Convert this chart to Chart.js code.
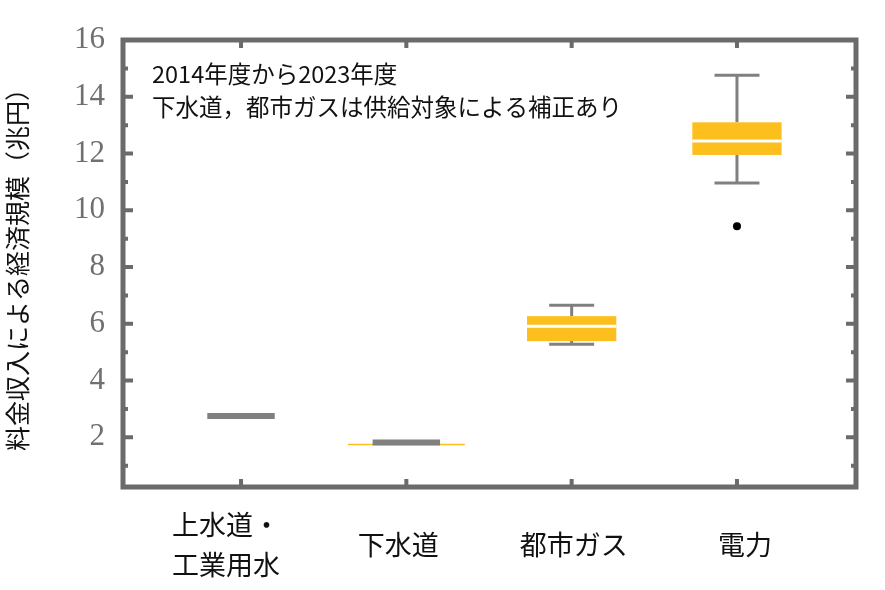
<!DOCTYPE html>
<html><head><meta charset="utf-8">
<script src="https://cdn.jsdelivr.net/npm/chart.js@4/dist/chart.umd.min.js"></script>
<style>body{margin:0;background:#fff}#wrap{width:885px;height:590px}</style>
</head><body><div id="wrap"><canvas id="c"></canvas></div>
<script>
const categories = [['上水道・', '工業用水'], ['下水道'], ['都市ガス'], ['電力']];
// [whiskerLow, q1, median, q3, whiskerHigh]
const boxStats = [
  [2.75, 2.75, 2.75, 2.75, 2.75],
  [1.82, 1.82, 1.82, 1.82, 1.82],
  [5.28, 5.39, 5.91, 6.27, 6.65],
  [10.96, 11.95, 12.44, 13.1, 14.76]
];
const outliers = [{ x: 4, y: 9.44 }];
const yTicks = [2, 4, 6, 8, 10, 12, 14, 16];
const notes = ['2014年度から2023年度', '下水道，都市ガスは供給対象による補正あり'];

const GRAY = '#6b6b6b', YEL = '#fdbf1e';
const labelShift = [-15, -8, 2, 8];

const boxPlugin = {
  id: 'boxes',
  afterDatasetsDraw(chart) {
    const { ctx, chartArea: a, scales: { x, y } } = chart;
    ctx.save();
    ctx.beginPath(); ctx.rect(a.left, a.top, a.right - a.left, a.bottom - a.top); ctx.clip();
    boxStats.forEach((s, i) => {
      const c = x.getPixelForValue(i + 1);
      const bw = x.getPixelForValue(1.27) - x.getPixelForValue(1);
      const cw = x.getPixelForValue(1.136) - x.getPixelForValue(1);
      const [lo, q1, med, q3, hi] = s.map(v => y.getPixelForValue(v));
      if (q1 - q3 > 1) {
        ctx.strokeStyle = '#808080'; ctx.lineWidth = 3;
        ctx.beginPath();
        ctx.moveTo(c, lo); ctx.lineTo(c, q1); ctx.moveTo(c, q3); ctx.lineTo(c, hi);
        ctx.moveTo(c - cw, lo); ctx.lineTo(c + cw, lo); ctx.moveTo(c - cw, hi); ctx.lineTo(c + cw, hi);
        ctx.stroke();
        ctx.fillStyle = YEL; ctx.fillRect(c - bw, q3, 2 * bw, q1 - q3);
        ctx.strokeStyle = '#fff'; ctx.lineWidth = 3;
        ctx.beginPath(); ctx.moveTo(c - bw, med); ctx.lineTo(c + bw, med); ctx.stroke();
      } else {
        if (i === 1) {
          ctx.strokeStyle = YEL; ctx.lineWidth = 1.5;
          ctx.beginPath(); ctx.moveTo(c - 1.3 * cw * 2, med + 2); ctx.lineTo(c + 1.3 * cw * 2, med + 2); ctx.stroke();
        }
        ctx.strokeStyle = '#808080'; ctx.lineWidth = 6;
        ctx.beginPath(); ctx.moveTo(c - cw * 1.5, med); ctx.lineTo(c + cw * 1.5, med); ctx.stroke();
      }
    });
    ctx.restore();
    // frame and ticks
    ctx.save();
    ctx.strokeStyle = GRAY; ctx.lineWidth = 5;
    ctx.strokeRect(a.left, a.top, a.right - a.left, a.bottom - a.top);
    ctx.lineWidth = 4;
    ctx.beginPath();
    for (let v = 1; v <= 16; v++) {
      const py = y.getPixelForValue(v), len = v % 2 ? 5 : 10;
      ctx.moveTo(a.left, py); ctx.lineTo(a.left + len, py);
      ctx.moveTo(a.right, py); ctx.lineTo(a.right - len, py);
    }
    for (let k = 1; k <= 4; k++) {
      const px = x.getPixelForValue(k);
      ctx.moveTo(px, a.bottom); ctx.lineTo(px, a.bottom - 8);
      ctx.moveTo(px, a.top); ctx.lineTo(px, a.top + 8);
    }
    ctx.stroke();
    // category labels
    ctx.fillStyle = '#111'; ctx.font = '27px "Noto Sans CJK JP"';
    ctx.textAlign = 'center'; ctx.textBaseline = 'middle';
    categories.forEach((lines, i) => {
      const px = x.getPixelForValue(i + 1) + labelShift[i];
      const y0 = 545 - (lines.length - 1) * 20;
      lines.forEach((t, j) => ctx.fillText(t, px, y0 + j * 40));
    });
    // notes
    ctx.textAlign = 'left'; ctx.font = '23.5px "Noto Sans CJK JP"';
    notes.forEach((t, j) => ctx.fillText(t, a.left + 29, 74 + j * 33));
    ctx.restore();
  }
};

new Chart(document.getElementById('c'), {
  type: 'scatter',
  data: { datasets: [{ data: outliers, pointRadius: 4, backgroundColor: '#000', borderWidth: 0 }] },
  options: {
    responsive: true, maintainAspectRatio: false, animation: false,
    layout: { padding: { top: 40, right: 29, left: 0, bottom: 0 } },
    plugins: { legend: { display: false }, tooltip: { enabled: false } },
    scales: {
      x: {
        type: 'linear', min: 0.286, max: 4.72,
        grid: { display: false }, border: { display: false },
        ticks: { display: false },
        afterFit(s) { s.height = 103; }
      },
      y: {
        min: 0.25, max: 16,
        grid: { display: false }, border: { display: false },
        afterBuildTicks(s) { s.ticks = yTicks.map(v => ({ value: v })); },
        ticks: { color: '#707070', padding: 10, font: { family: '"Liberation Serif"', size: 31 } },
        title: { display: true, text: '料金収入による経済規模（兆円）', color: '#111',
                 font: { family: '"Noto Sans CJK JP"', size: 25 }, padding: 2 },
        afterFit(s) { s.width = 123; }
      }
    }
  },
  plugins: [boxPlugin]
});
</script></body></html>
